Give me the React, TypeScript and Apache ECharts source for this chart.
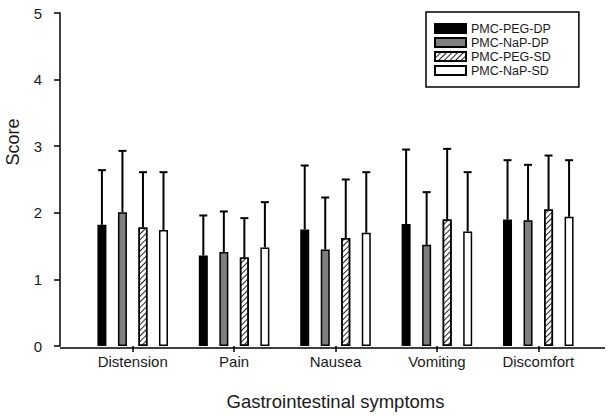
import React, { useEffect, useRef } from "react";
import * as echarts from "echarts";

const categories = ["Distension", "Pain", "Nausea", "Vomiting", "Discomfort"];
const seriesNames = ["PMC-PEG-DP", "PMC-NaP-DP", "PMC-PEG-SD", "PMC-NaP-SD"];
const pegDpMean = [1.82, 1.36, 1.75, 1.83, 1.9];
const napDpMean = [2.01, 1.41, 1.45, 1.52, 1.89];
const pegSdMean = [1.78, 1.33, 1.62, 1.9, 2.05];
const napSdMean = [1.74, 1.48, 1.7, 1.72, 1.94];
const pegDpSD = [0.82, 0.6, 0.96, 1.12, 0.89];
const napDpSD = [0.92, 0.61, 0.78, 0.79, 0.83];
const pegSdSD = [0.83, 0.59, 0.88, 1.06, 0.81];
const napSdSD = [0.87, 0.68, 0.91, 0.89, 0.85];
const yTicks = [0, 1, 2, 3, 4, 5];

const means = [pegDpMean, napDpMean, pegSdMean, napSdMean];
const sds = [pegDpSD, napDpSD, pegSdSD, napSdSD];

const BAR_W = 9;
const GAP = 1.28;
const FONT = "Liberation Sans, Arial, sans-serif";
const TXT = "#1a1a1a";

export default function App() {
  const ref = useRef<HTMLDivElement>(null);
  useEffect(() => {
    if (!ref.current) return;
    const chart = echarts.init(ref.current, null, { renderer: "svg" });
    const fills = ["#000000", "#7f7f7f", "#ffffff", "#ffffff"];
    const barSeries = seriesNames.map((name, i) => ({
      name,
      type: "bar",
      data: means[i],
      barWidth: BAR_W,
      barGap: GAP * 100 + "%",
      itemStyle: {
        color: fills[i],
        borderColor: "#000",
        borderWidth: 1.5,
        decal:
          i === 2
            ? {
                symbol: "rect",
                symbolSize: 1,
                dashArrayX: [1, 0],
                dashArrayY: [1, 2.5],
                rotation: -Math.PI / 4,
                color: "#222",
              }
            : undefined,
      },
    }));
    const errData: number[][] = [];
    means.forEach((arr, s) =>
      arr.forEach((m, c) => errData.push([c, s, m, sds[s][c]]))
    );
    const gapPx = BAR_W * GAP;
    const total = 4 * BAR_W + 3 * gapPx;
    chart.setOption({
      animation: false,
      grid: { left: 82, right: 19, top: 13, bottom: 68 },
      legend: {
        data: seriesNames,
        orient: "vertical",
        left: 426,
        top: 12,
        icon: "rect",
        itemWidth: 31,
        itemHeight: 9,
        itemGap: 1,
        padding: [10, 28, 10, 8],
        borderColor: "#000",
        borderWidth: 1.5,
        textStyle: { fontFamily: FONT, fontSize: 12.5, color: TXT },
      },
      xAxis: {
        type: "category",
        data: categories,
        axisLine: { show: false },
        axisTick: {
          show: true,
          alignWithLabel: true,
          length: 6,
          lineStyle: { color: "#000", width: 1.5 },
        },
        axisLabel: { margin: 8, fontFamily: FONT, fontSize: 15, color: TXT },
        name: "Gastrointestinal symptoms",
        nameLocation: "middle",
        nameGap: 46,
        nameTextStyle: { fontFamily: FONT, fontSize: 18.5, color: TXT },
      },
      yAxis: {
        type: "value",
        min: yTicks[0],
        max: yTicks[yTicks.length - 1],
        interval: 1,
        offset: 22,
        splitLine: { show: false },
        axisLine: { show: true, lineStyle: { color: "#000", width: 1.5 } },
        axisTick: { show: true, length: 6, lineStyle: { color: "#000", width: 1.5 } },
        axisLabel: { margin: 18, fontFamily: FONT, fontSize: 15, color: TXT },
      },
      graphic: [
        {
          type: "line",
          shape: { x1: 60, y1: 348, x2: 605, y2: 348 },
          style: { stroke: "#000", lineWidth: 1.5 },
          z: 10,
        },
        {
          type: "text",
          x: 13,
          y: 142,
          rotation: Math.PI / 2,
          style: {
            text: "Score",
            textAlign: "center",
            textVerticalAlign: "middle",
            fontFamily: FONT,
            fontSize: 18,
            fill: TXT,
          },
        },
      ],
      series: [
        ...barSeries,
        {
          type: "custom",
          data: errData,
          z: 5,
          renderItem: (params: any, api: any) => {
            const c = api.value(0);
            const s = api.value(1);
            const m = api.value(2);
            const sd = api.value(3);
            const base = api.coord([c, m]);
            const top = api.coord([c, m + sd]);
            const off = -total / 2 + BAR_W / 2 + s * (BAR_W + gapPx);
            const cx = base[0] + off;
            const style = { stroke: "#000", lineWidth: 2 };
            return {
              type: "group",
              children: [
                { type: "line", shape: { x1: cx, y1: base[1], x2: cx, y2: top[1] }, style },
                { type: "line", shape: { x1: cx - 4, y1: top[1], x2: cx + 4, y2: top[1] }, style },
              ],
            };
          },
        },
      ],
    });
    return () => chart.dispose();
  }, []);
  return (
    <div
      ref={ref}
      style={{ position: "absolute", left: 0, top: 0, width: 608, height: 416 }}
    />
  );
}
